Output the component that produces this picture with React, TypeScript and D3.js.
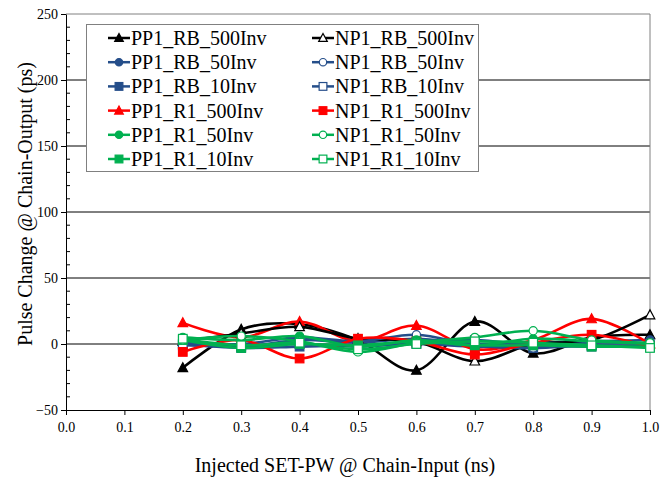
import React from "react";
import * as d3 from "d3";

// injected pulse widths (ns)
const xValues = [0.2, 0.3, 0.4, 0.5, 0.6, 0.7, 0.8, 0.9, 1.0];

// pulse change at chain output (ps)
const pp1Rb500 = [-18, 11, 15, 3, -20, 17, -7, 5, 7];
const pp1Rb50 = [2, -2, 3, 1, 4, 0, 1, 2, 3];
const pp1Rb10 = [0, -3, -2, -1, 0, -2, -3, -1, -2];
const pp1R1500 = [16, 5, 17, 2, 14, -4, 3, 19, 0];
const pp1R150 = [5, 3, 6, -2, 3, -1, 4, 2, 0];
const pp1R110 = [3, -3, 0, -1, 2, -1, -1, -2, -2];
const np1Rb500 = [2, 8, 13, 4, 2, -13, 0, 3, 22];
const np1Rb50 = [1, 0, 5, 2, 7, -1, -3, 1, 0];
const np1Rb10 = [-1, -2, 0, -2, 1, 3, -1, -2, -1];
const np1R1500 = [-6, 3, -11, 4, 2, -8, 1, 7, -2];
const np1R150 = [3, 6, 2, -6, 1, 5, 10, 3, 1];
const np1R110 = [4, -1, 1, -4, 0, 2, 1, -1, -3];

const yTicks = [-50, 0, 50, 100, 150, 200, 250];
const xTicks = [0, 0.1, 0.2, 0.3, 0.4, 0.5, 0.6, 0.7, 0.8, 0.9, 1.0];

const BLACK = "#000000";
const BLUE = "#254E8A";
const RED = "#FF0000";
const GREEN = "#00B050";

const series = [
  { name: "PP1_RB_500Inv", values: pp1Rb500, color: BLACK, marker: "triangle", open: false, col: 0, row: 0 },
  { name: "PP1_RB_50Inv", values: pp1Rb50, color: BLUE, marker: "circle", open: false, col: 0, row: 1 },
  { name: "PP1_RB_10Inv", values: pp1Rb10, color: BLUE, marker: "square", open: false, col: 0, row: 2 },
  { name: "PP1_R1_500Inv", values: pp1R1500, color: RED, marker: "triangle", open: false, col: 0, row: 3 },
  { name: "NP1_RB_500Inv", values: np1Rb500, color: BLACK, marker: "triangle", open: true, col: 1, row: 0 },
  { name: "NP1_RB_50Inv", values: np1Rb50, color: BLUE, marker: "circle", open: true, col: 1, row: 1 },
  { name: "NP1_RB_10Inv", values: np1Rb10, color: BLUE, marker: "square", open: true, col: 1, row: 2 },
  { name: "NP1_R1_500Inv", values: np1R1500, color: RED, marker: "square", open: false, col: 1, row: 3 },
  { name: "PP1_R1_50Inv", values: pp1R150, color: GREEN, marker: "circle", open: false, col: 0, row: 4 },
  { name: "PP1_R1_10Inv", values: pp1R110, color: GREEN, marker: "square", open: false, col: 0, row: 5 },
  { name: "NP1_R1_50Inv", values: np1R150, color: GREEN, marker: "circle", open: true, col: 1, row: 4 },
  { name: "NP1_R1_10Inv", values: np1R110, color: GREEN, marker: "square", open: true, col: 1, row: 5 },
];

const FONT = "'Liberation Serif', 'Times New Roman', serif";

function drawMarker(g, s, cx, cy, k = 1) {
  const fill = s.open ? "#fff" : s.color;
  if (s.marker === "triangle") {
    const h = 8.5 * k;
    g.append("path")
      .attr("d", `M${cx},${cy - h * 0.6}L${cx + 4.8 * k},${cy + h * 0.45}L${cx - 4.8 * k},${cy + h * 0.45}Z`)
      .attr("fill", fill)
      .attr("stroke", s.color)
      .attr("stroke-width", 1.2);
  } else if (s.marker === "circle") {
    g.append("circle")
      .attr("cx", cx)
      .attr("cy", cy)
      .attr("r", 4.1 * k)
      .attr("fill", fill)
      .attr("stroke", s.color)
      .attr("stroke-width", 1.2);
  } else {
    const a = 4.3 * k;
    g.append("rect")
      .attr("x", cx - a)
      .attr("y", cy - a)
      .attr("width", a * 2)
      .attr("height", a * 2)
      .attr("fill", fill)
      .attr("stroke", s.color)
      .attr("stroke-width", 1.2);
  }
}

export default function App() {
  const ref = React.useRef(null);
  const width = 672;
  const height = 479;
  const margin = { top: 14, right: 22, bottom: 69, left: 66 };

  React.useEffect(() => {
    const svg = d3.select(ref.current);
    svg.selectAll("*").remove();

    const x = d3.scaleLinear().domain([0, 1]).range([margin.left, width - margin.right]);
    const y = d3.scaleLinear().domain([-50, 250]).range([height - margin.bottom, margin.top]);

    svg.append("rect").attr("width", width).attr("height", height).attr("fill", "#fff");

    // grid
    svg.append("g")
      .selectAll("line")
      .data(yTicks.filter((t) => t > -50 && t < 250))
      .join("line")
      .attr("x1", x(0))
      .attr("x2", x(1))
      .attr("y1", (d) => y(d))
      .attr("y2", (d) => y(d))
      .attr("stroke", "#000")
      .attr("stroke-width", 1);

    // frame top / right
    svg.append("path")
      .attr("d", `M${x(0)},${y(250)}H${x(1)}V${y(-50)}`)
      .attr("fill", "none")
      .attr("stroke", "#808080")
      .attr("stroke-width", 1);

    // y axis
    const yAxis = svg.append("g").attr("transform", `translate(${x(0)},0)`);
    yAxis.call(d3.axisLeft(y).tickValues(yTicks).tickSize(5).tickSizeOuter(0));
    yAxis.select(".domain").attr("stroke", "#000");
    yAxis.selectAll("text")
      .attr("font-family", FONT)
      .attr("font-size", 14)
      .attr("fill", "#000")
      .attr("x", -8);
    yAxis.append("g")
      .selectAll("line")
      .data(d3.range(-50, 251, 10).filter((v) => v % 50 !== 0))
      .join("line")
      .attr("x1", 0)
      .attr("x2", 4)
      .attr("y1", (d) => y(d))
      .attr("y2", (d) => y(d))
      .attr("stroke", "#000");

    // x axis
    const xAxis = svg.append("g").attr("transform", `translate(0,${y(-50)})`);
    xAxis.call(d3.axisBottom(x).tickValues(xTicks).tickFormat(d3.format(".1f")).tickSize(5).tickSizeOuter(0));
    xAxis.selectAll("text")
      .attr("font-family", FONT)
      .attr("font-size", 14)
      .attr("fill", "#000")
      .attr("y", 12);

    // series
    const line = d3
      .line()
      .x((d) => x(d[0]))
      .y((d) => y(d[1]))
      .curve(d3.curveCardinal.tension(0));

    const plot = svg.append("g");
    series.forEach((s) => {
      const pts = xValues.map((v, i) => [v, s.values[i]]);
      plot.append("path")
        .datum(pts)
        .attr("d", line)
        .attr("fill", "none")
        .attr("stroke", s.color)
        .attr("stroke-width", 2.6);
      const mg = plot.append("g");
      pts.forEach((p) => drawMarker(mg, s, x(p[0]), y(p[1])));
    });

    // legend
    const lg = svg.append("g");
    lg.append("rect")
      .attr("x", 86.5)
      .attr("y", 24.5)
      .attr("width", 392)
      .attr("height", 147)
      .attr("fill", "#fff")
      .attr("stroke", "#808080")
      .attr("stroke-width", 1);
    const colX = [108, 312];
    series.forEach((s) => {
      const lx = colX[s.col];
      const ly = 38 + s.row * 24.2;
      lg.append("line")
        .attr("x1", lx)
        .attr("x2", lx + 22)
        .attr("y1", ly)
        .attr("y2", ly)
        .attr("stroke", s.color)
        .attr("stroke-width", 2.5);
      drawMarker(lg, s, lx + 11, ly, 0.9);
      lg.append("text")
        .attr("x", lx + 23)
        .attr("y", ly + 7)
        .attr("font-family", FONT)
        .attr("font-size", 20)
        .attr("fill", "#000")
        .text(s.name);
    });

    // titles
    svg.append("text")
      .attr("x", 345)
      .attr("y", 472)
      .attr("text-anchor", "middle")
      .attr("font-family", FONT)
      .attr("font-size", 20)
      .text("Injected SET-PW @ Chain-Input (ns)");

    svg.append("text")
      .attr("transform", `translate(32,204) rotate(-90)`)
      .attr("text-anchor", "middle")
      .attr("font-family", FONT)
      .attr("font-size", 20)
      .text("Pulse Change @ Chain-Output (ps)");
  }, []);

  return (
    <div style={{ position: "absolute", left: 0, top: 0 }}>
      <svg ref={ref} width={width} height={height} style={{ display: "block" }} />
    </div>
  );
}
